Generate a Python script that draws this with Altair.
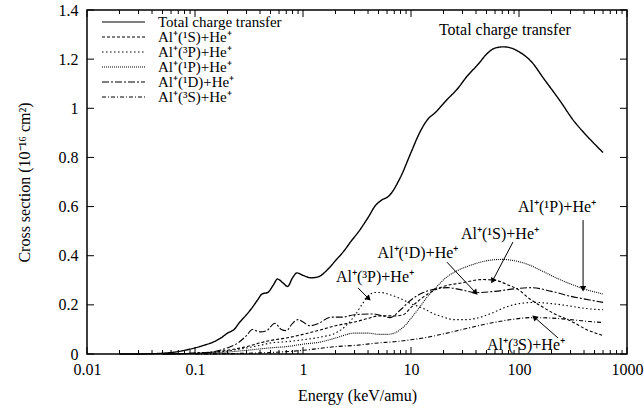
import altair as alt
import pandas as pd

# ---------------- data ----------------
names = ["Total charge transfer", "Al⁺(¹S)+He⁺", "Al⁺(³P)+He⁺",
         "Al⁺(¹P)+He⁺", "Al⁺(¹D)+He⁺", "Al⁺(³S)+He⁺"]

E_tot = [0.02, 0.03, 0.04, 0.05, 0.06, 0.07, 0.08, 0.1, 0.12, 0.15, 0.18, 0.2, 0.23, 0.26,
         0.3, 0.34, 0.38, 0.42, 0.47, 0.53, 0.58, 0.65, 0.72, 0.8, 0.88, 1.0, 1.2, 1.4, 1.7,
         2.0, 2.4, 2.8, 3.3, 4.0, 4.7, 5.3, 6.3, 8, 10, 12, 14, 17, 21, 27, 33, 42, 50, 60,
         72, 85, 100, 130, 170, 240, 320, 400, 500, 600]
v_tot = [0, 0, 0.001, 0.003, 0.006, 0.01, 0.015, 0.025, 0.035, 0.05, 0.07, 0.085, 0.1, 0.13,
         0.16, 0.19, 0.22, 0.245, 0.25, 0.28, 0.305, 0.29, 0.275, 0.31, 0.33, 0.32, 0.31, 0.315,
         0.345, 0.38, 0.42, 0.46, 0.5, 0.555, 0.605, 0.625, 0.645, 0.72, 0.82, 0.9, 0.95, 0.985,
         1.03, 1.08, 1.13, 1.18, 1.22, 1.245, 1.25, 1.245, 1.23, 1.19, 1.12, 1.03, 0.95, 0.9,
         0.855, 0.82]

E_1S = [0.05, 0.1, 0.15, 0.2, 0.3, 0.4, 0.5, 0.7, 1.0, 1.5, 2, 3, 4, 5, 6, 7, 8.5, 10, 12, 15,
        20, 30, 46, 60, 80, 100, 125, 160, 210, 300, 420, 600]
v_1S = [0, 0.003, 0.008, 0.015, 0.03, 0.045, 0.055, 0.065, 0.08, 0.1, 0.115, 0.13, 0.145,
        0.155, 0.155, 0.155, 0.16, 0.19, 0.22, 0.25, 0.275, 0.29, 0.303, 0.3, 0.28, 0.26, 0.225,
        0.195, 0.165, 0.135, 0.1, 0.075]

E_3P = [0.05, 0.1, 0.2, 0.3, 0.4, 0.5, 0.7, 1.0, 1.5, 2.0, 2.5, 3.0, 3.5, 4.0, 4.6, 5.3, 6.5,
        8, 10, 13, 16, 20, 25, 32, 40, 55, 75, 100, 140, 200, 300, 420, 600]
v_3P = [0, 0.003, 0.012, 0.025, 0.035, 0.045, 0.05, 0.058, 0.07, 0.085, 0.115, 0.155, 0.2,
        0.235, 0.25, 0.25, 0.24, 0.225, 0.205, 0.185, 0.165, 0.15, 0.14, 0.14, 0.145, 0.165,
        0.19, 0.205, 0.21, 0.205, 0.195, 0.185, 0.18]

E_1P = [0.05, 0.1, 0.2, 0.3, 0.5, 0.7, 1.0, 1.5, 2, 3, 4, 5, 6, 7, 8, 9, 10, 12, 14, 17, 21,
        27, 35, 45, 57, 70, 90, 120, 160, 220, 300, 400, 600]
v_1P = [0, 0.003, 0.008, 0.015, 0.025, 0.03, 0.04, 0.05, 0.065, 0.085, 0.085, 0.08, 0.08,
        0.085, 0.1, 0.12, 0.145, 0.19, 0.23, 0.27, 0.31, 0.34, 0.36, 0.375, 0.383, 0.385, 0.38,
        0.365, 0.34, 0.31, 0.285, 0.265, 0.244]

E_1D = [0.05, 0.1, 0.15, 0.2, 0.25, 0.3, 0.34, 0.4, 0.46, 0.55, 0.63, 0.7, 0.8, 0.9, 1.0, 1.16,
        1.4, 1.8, 2.3, 3, 4.4, 5.5, 6.4, 8, 10, 13, 17, 22, 30, 40, 60, 90, 130, 200, 300, 450,
        600]
v_1D = [0, 0.004, 0.01, 0.025, 0.045, 0.075, 0.1, 0.09, 0.095, 0.125, 0.1, 0.095, 0.125, 0.14,
        0.13, 0.115, 0.125, 0.15, 0.15, 0.16, 0.163, 0.155, 0.148, 0.18, 0.22, 0.25, 0.265,
        0.27, 0.26, 0.25, 0.255, 0.265, 0.27, 0.255, 0.235, 0.22, 0.21]

E_3S = [0.1, 0.3, 0.5, 1, 2, 3, 5, 7, 10, 15, 20, 30, 45, 65, 90, 130, 180, 250, 350, 450, 600]
v_3S = [0, 0.003, 0.006, 0.015, 0.03, 0.035, 0.045, 0.05, 0.058, 0.07, 0.082, 0.1, 0.118,
        0.132, 0.142, 0.148, 0.147, 0.143, 0.137, 0.132, 0.128]

# annotation labels (data units)
ann_text = ["Total charge transfer", "Al⁺(¹P)+He⁺", "Al⁺(¹S)+He⁺", "Al⁺(¹D)+He⁺",
            "Al⁺(³P)+He⁺", "Al⁺(³S)+He⁺"]
ann_E = [74, 225, 66.7, 11.6, 4.64, 116]
ann_v = [1.32, 0.598, 0.488, 0.411, 0.313, 0.037]

# arrows: tail -> head (data units)
arr_E1 = [392, 88, 21.5, 3.23, 230]
arr_v1 = [0.545, 0.456, 0.374, 0.269, 0.065]
arr_E2 = [392, 57.4, 39.2, 4.0, 141]
arr_v2 = [0.269, 0.301, 0.252, 0.228, 0.147]
arr_ang = [180, 208, 137, 135, 311]

x_major = [0.01, 0.1, 1, 10, 100, 1000]
x_minor = [k * d for d in [0.01, 0.1, 1, 10, 100] for k in range(2, 10)]
y_major = [0, 0.2, 0.4, 0.6, 0.8, 1.0, 1.2, 1.4]

# ---------------- build tables ----------------
series = [(names[0], E_tot, v_tot), (names[1], E_1S, v_1S), (names[2], E_3P, v_3P),
          (names[3], E_1P, v_1P), (names[4], E_1D, v_1D), (names[5], E_3S, v_3S)]
rows = []
for n, es, vs in series:
    for e, v in zip(es, vs):
        rows.append({"series": n, "E": e, "v": v})
df = pd.DataFrame(rows)

ann = pd.DataFrame({"text": ann_text, "E": ann_E, "v": ann_v})
arr = pd.DataFrame({"E1": arr_E1, "v1": arr_v1, "E2": arr_E2, "v2": arr_v2, "ang": arr_ang})
xt = pd.DataFrame({"E": x_major})
xm = pd.DataFrame({"E": x_minor})
yt = pd.DataFrame({"v": y_major})

W, H = 540, 344
FONT = "Liberation Serif"
FS = 16
xs = alt.Scale(type="log", domain=[0.01, 1000], nice=False)
ys = alt.Scale(domain=[0, 1.4], nice=False, zero=False)

ax_x = alt.Axis(values=x_major, format="~g", tickSize=0, domain=False, grid=False,
                labelFont=FONT, labelFontSize=FS, labelColor="black", labelPadding=7,
                labelOverlap=False, labelFlush=False,
                title="Energy (keV/amu)", titleFont=FONT, titleFontSize=FS,
                titleFontWeight="normal", titleColor="black", titlePadding=10)
ax_y = alt.Axis(values=y_major, format=".1~f", tickSize=0, domain=False, grid=False,
                labelFont=FONT, labelFontSize=FS, labelColor="black", labelPadding=9,
                title="Cross section (10⁻¹⁶ cm²)", titleFont=FONT, titleFontSize=FS,
                titleFontWeight="normal", titleColor="black", titlePadding=26)

X = lambda f: alt.X(f, scale=xs, axis=ax_x)
Y = lambda f: alt.Y(f, scale=ys, axis=ax_y)

dashes = [[1, 0], [3, 2], [1.5, 2.5], [1, 1], [7, 2, 2, 2], [4, 2, 1, 2]]
dash_scale = alt.Scale(domain=names, range=dashes)

lines = alt.Chart(df).mark_line(color="black", interpolate="monotone").encode(
    x=X("E:Q"), y=Y("v:Q"),
    strokeDash=alt.StrokeDash("series:N", scale=dash_scale, legend=None),
    order=alt.Order("E:Q"),
    strokeWidth=alt.condition(alt.datum.series == names[0], alt.value(1.4), alt.value(1.1)),
)

tick_bottom = alt.Chart(xt).mark_rule(color="black").encode(
    x=X("E:Q"), y=alt.value(H), y2=alt.value(H - 7))
tick_top = alt.Chart(xt).mark_rule(color="black").encode(
    x=X("E:Q"), y=alt.value(0), y2=alt.value(7))
mtick_bottom = alt.Chart(xm).mark_rule(color="black").encode(
    x=X("E:Q"), y=alt.value(H), y2=alt.value(H - 4))
mtick_top = alt.Chart(xm).mark_rule(color="black").encode(
    x=X("E:Q"), y=alt.value(0), y2=alt.value(4))
tick_left = alt.Chart(yt).mark_rule(color="black").encode(
    y=Y("v:Q"), x=alt.value(0), x2=alt.value(7))
tick_right = alt.Chart(yt).mark_rule(color="black").encode(
    y=Y("v:Q"), x=alt.value(W), x2=alt.value(W - 7))

labels = alt.Chart(ann).mark_text(font=FONT, fontSize=FS, color="black", align="center",
                                  baseline="middle").encode(
    x=X("E:Q"), y=Y("v:Q"), text="text:N")

arrow_lines = alt.Chart(arr).mark_rule(color="black", strokeWidth=1).encode(
    x=X("E1:Q"), y=Y("v1:Q"), x2="E2:Q", y2="v2:Q")
arrow_heads = alt.Chart(arr).mark_point(shape="triangle", filled=True, color="black",
                                        size=40, opacity=1).encode(
    x=X("E2:Q"), y=Y("v2:Q"), angle=alt.Angle("ang:Q", scale=None))

# hand-drawn legend (top-left, inside the frame)
leg_layers = []
for i, n in enumerate(names):
    row_y = 12 + 15 * i
    ld = pd.DataFrame({"series": [n]})
    leg_layers.append(alt.Chart(ld).mark_rule(strokeWidth=1.2 if i == 0 else 1.1,
                                              color="black").encode(
        x=alt.value(15), x2=alt.value(58), y=alt.value(row_y),
        strokeDash=alt.StrokeDash("series:N", scale=dash_scale, legend=None)))
    leg_layers.append(alt.Chart(ld).mark_text(font=FONT, fontSize=15, color="black",
                                              align="left", baseline="middle").encode(
        x=alt.value(71), y=alt.value(row_y), text="series:N"))

chart = alt.layer(lines, tick_bottom, tick_top, mtick_bottom, mtick_top, tick_left, tick_right,
                  labels, arrow_lines, arrow_heads, *leg_layers).properties(
    width=W, height=H,
    autosize=alt.AutoSizeParams(type="none"),
    padding={"left": 87, "top": 10, "right": 17, "bottom": 59},
    background="white",
).configure_view(stroke="black", strokeWidth=1.5)

chart.save("out.html", embed_options={"renderer": "svg", "actions": False})
